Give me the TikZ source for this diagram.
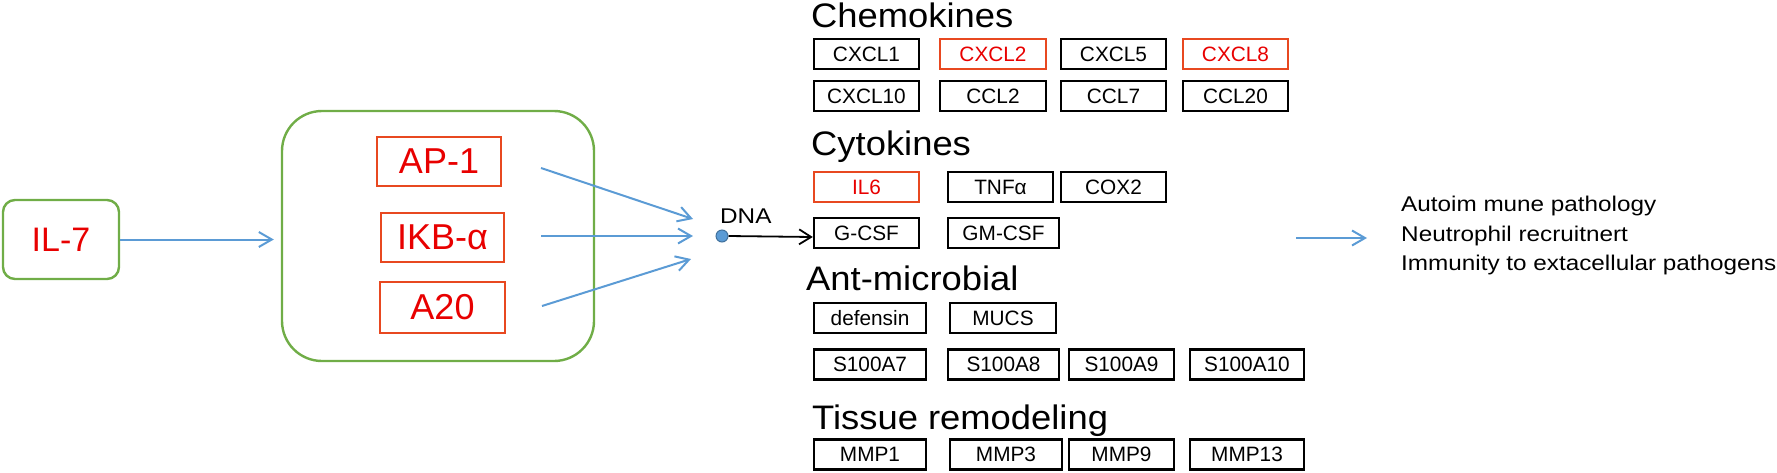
\documentclass[tikz,border=0pt]{standalone}
\usepackage{fontspec}
\setmainfont{Liberation Sans}
\newfontfamily\headfont[FakeStretch=1.07]{Liberation Sans}
\newfontfamily\smallfont[FakeStretch=1.14]{Liberation Sans}
\usetikzlibrary{arrows.meta}
\definecolor{arrowblue}{RGB}{91,155,213}
\definecolor{grn}{RGB}{112,173,71}
\definecolor{redline}{RGB}{232,72,32}
\definecolor{redtxt}{RGB}{232,0,0}
\definecolor{dotline}{RGB}{65,113,156}
\begin{document}
\begin{tikzpicture}[x=1pt,y=-1pt,
  lbl/.style={draw=black, line width=2.4pt, inner sep=0pt, minimum height=30pt, font=\fontsize{20.8}{24}\selectfont},
  hot/.style={draw=redline, text=redtxt},
  grpbox/.style={draw=grn, line width=2.4pt, rounded corners=#1, inner sep=0pt},
  big/.style={draw=redline, line width=2.4pt, text=redtxt, inner sep=0pt, font=\fontsize{36}{40}\selectfont},
  head/.style={anchor=base west, inner sep=0pt, font=\headfont\fontsize{34}{40}\selectfont},
  outtxt/.style={anchor=base west, inner sep=0pt, font=\smallfont\fontsize{21.3}{26}\selectfont},
  blu/.style={draw=arrowblue, line width=2pt, -{Straight Barb[length=13pt,width=15pt]}},
  blk/.style={draw=black, line width=1.8pt, -{Straight Barb[length=12pt,width=15pt]}}]
\useasboundingbox (0,0) rectangle (1777,472);

% left part
\node (il7) [grpbox=12pt, minimum width=116pt, minimum height=79pt, text=redtxt, font=\fontsize{34}{38}\selectfont] at (61,239.5) {IL-7};
\node (grp) [grpbox=40pt, minimum width=312pt, minimum height=250pt] at (438,236) {};
\node (ap1) [big, minimum width=124pt, minimum height=49pt] at (439,161.5) {AP-1};
\node (ikb) [big, minimum width=123pt, minimum height=49pt] at (442.5,237.5) {IKB-α};
\node (a20) [big, minimum width=125pt, minimum height=51pt] at (442.5,307.5) {A20};

\draw[blu, shorten >=7pt] (il7.east) -- (il7.east -| grp.west);

\coordinate (s1) at (541,168);
\coordinate (s2) at (541,236);
\coordinate (s3) at (542,306);
\coordinate (e1) at (693,219);
\coordinate (e2) at (693,236);
\coordinate (e3) at (691,259);
\draw[blu] (s1) -- (e1);
\draw[blu] (s2) -- (e2);
\draw[blu] (s3) -- (e3);

% DNA
\node (dna) [circle, fill=arrowblue, draw=dotline, line width=1pt, minimum size=12pt, inner sep=0pt] at (722,236) {};
\node (dnalabel) [anchor=base west, inner sep=0pt, font=\smallfont\fontsize{21.3}{26}\selectfont] at (720,223.3) {DNA};

% headings
\node (hchem) [head] at (811,27) {Chemokines};
\node (hcyto) [head] at (811,155) {Cytokines};
\node (hanti) [head] at (806,290.7) {Ant-microbial};
\node (htiss) [head] at (812,429.3) {Tissue remodeling};

% chemokines
\node (cxcl1) [lbl, minimum width=105pt] at (866.5,54) {CXCL1};
\node (cxcl2) [lbl, hot, minimum width=106pt] at (993,54) {CXCL2};
\node (cxcl5) [lbl, minimum width=105pt] at (1113.5,54) {CXCL5};
\node (cxcl8) [lbl, hot, minimum width=105pt] at (1235.5,54) {CXCL8};
\node (cxcl10) [lbl, minimum width=105pt] at (866.5,96) {CXCL10};
\node (ccl2) [lbl, minimum width=106pt] at (993,96) {CCL2};
\node (ccl7) [lbl, minimum width=105pt] at (1113.5,96) {CCL7};
\node (ccl20) [lbl, minimum width=105pt] at (1235.5,96) {CCL20};

% cytokines
\node (il6) [lbl, hot, minimum width=105pt] at (866.5,187) {IL6};
\node (tnfa) [lbl, minimum width=105pt] at (1000.5,187) {TNFα};
\node (cox2) [lbl, minimum width=105pt] at (1113.5,187) {COX2};
\node (gcsf) [lbl, minimum width=105pt] at (866.5,233) {G-CSF};
\node (gmcsf) [lbl, minimum width=111pt] at (1003.5,233) {GM-CSF};

% anti-microbial
\node (def) [lbl, minimum width=112pt] at (870,318) {defensin};
\node (mucs) [lbl, minimum width=106pt] at (1003,318) {MUCS};
\node (s7) [lbl, minimum width=112pt] at (870,364.5) {S100A7};
\node (s8) [lbl, minimum width=111pt] at (1003.5,364.5) {S100A8};
\node (s9) [lbl, minimum width=105pt] at (1121.5,364.5) {S100A9};
\node (s10) [lbl, minimum width=114pt] at (1247,364.5) {S100A10};

% tissue remodeling
\node (mmp1) [lbl, minimum width=112pt] at (870,454.5) {MMP1};
\node (mmp3) [lbl, minimum width=112pt] at (1006,454.5) {MMP3};
\node (mmp9) [lbl, minimum width=105pt] at (1121.5,454.5) {MMP9};
\node (mmp13) [lbl, minimum width=114pt] at (1247,454.5) {MMP13};

\draw[blk] (dna.east) -- ([yshift=-4pt]gcsf.west);

% outcomes
\coordinate (r0) at (1296,238);
\coordinate (r1) at (1367,238);
\draw[blu] (r0) -- (r1);
\node (res1) [outtxt] at (1401,211.7) {Autoim mune pathology};
\node (res2) [outtxt] at (1401,241.7) {Neutrophil recruitnert};
\node (res3) [outtxt] at (1401,270) {Immunity to extacellular pathogens};
\end{tikzpicture}
\end{document}
